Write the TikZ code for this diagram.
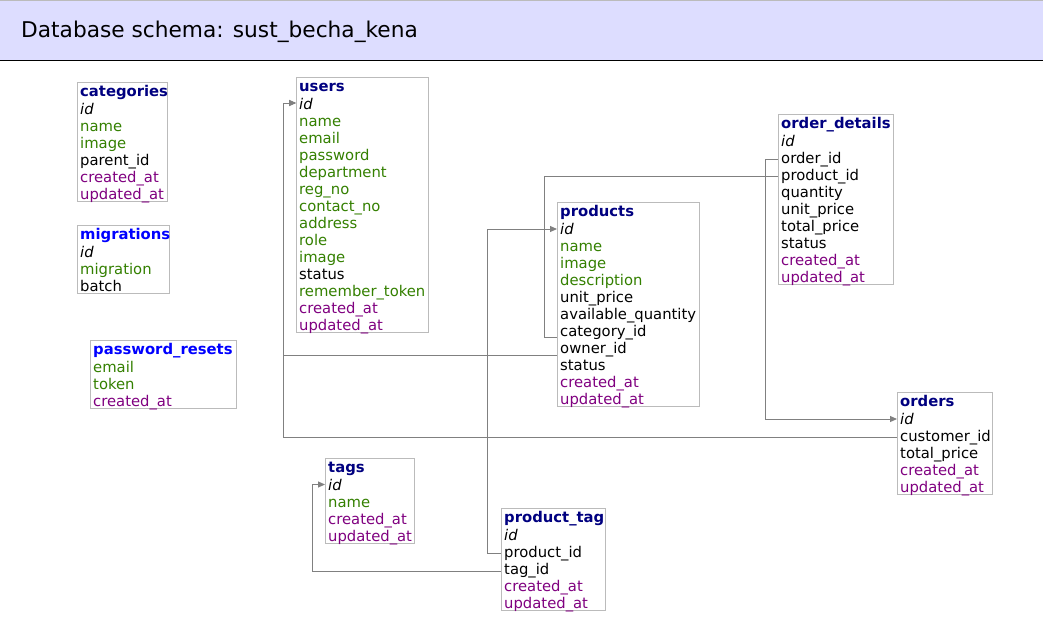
\documentclass[tikz,border=0pt]{standalone}
\usepackage{fontspec}
\setmainfont{DejaVu Sans}
\usetikzlibrary{arrows.meta}
\definecolor{hdr}{HTML}{DDDDFF}
\definecolor{tnavy}{HTML}{000080}
\definecolor{tblue}{HTML}{0000FF}
\definecolor{fgreen}{RGB}{52,128,0}
\definecolor{fpurple}{HTML}{800080}
\definecolor{boxgray}{HTML}{BBBBBB}
\definecolor{connc}{HTML}{808080}
\catcode`\_=12
\newcommand\tf{\fontsize{14.8}{17}\selectfont}
\tikzset{
  tbox/.style={draw=boxgray, line width=1pt, anchor=north west, inner sep=0pt, outer sep=0pt, fill=white},
  ttitle/.style={anchor=base west, inner sep=0pt, font=\tf\bfseries},
  tfield/.style={anchor=base west, inner sep=0pt, font=\tf},
  idf/.style={font=\tf\itshape, text=black},
  grn/.style={text=fgreen},
  blk/.style={text=black},
  tsf/.style={text=fpurple},
  conn/.style={draw=connc, line width=1pt},
  arr/.style={-{Triangle[length=7pt,width=6pt]}},
}
% #1 key, #2 title, #3 title colour, #4 x, #5 y, #6 width, #7 rows, #8 fields
\newcommand\dbtable[8]{%
  \node[tbox, minimum width=#6pt, minimum height={17pt*#7}] (#1) at (#4,#5) {};
  \node[ttitle, text=#3] (#1-title) at ({#4+3},{#5+14.5}) {#2};
  \foreach \f/\c [count=\i] in {#8} {
    \coordinate (#1-\f) at (#4,{#5+8.5+17*\i});
    \node[tfield, \c] (#1-\f-t) at ({#4+3},{#5+15+17*\i}) {\f};
  }%
}
\begin{document}
\begin{tikzpicture}[x=1pt,y=-1pt]
\useasboundingbox (0,0) rectangle (1043,621);
\fill[white] (0,0) rectangle (1043,621);
\fill[hdr] (0,0) rectangle (1043,60);
\draw[boxgray, line width=1pt] (0,0.5) -- (1043,0.5);
\draw[black, line width=1pt] (0,60) -- (1043,60);
\node[anchor=base west, inner sep=0pt, font=\fontsize{21.7}{26}\selectfont] (title) at (21,37.5) {Database schema: sust_becha_kena};

\dbtable{categories}{categories}{tnavy}{77}{82}{90}{7}{id/idf,name/grn,image/grn,parent_id/blk,created_at/tsf,updated_at/tsf}
\dbtable{migrations}{migrations}{tblue}{77}{225}{92}{4}{id/idf,migration/grn,batch/blk}
\dbtable{pwres}{password_resets}{tblue}{90}{340}{146}{4}{email/grn,token/grn,created_at/tsf}
\dbtable{users}{users}{tnavy}{296}{77}{132}{15}{id/idf,name/grn,email/grn,password/grn,department/grn,reg_no/grn,contact_no/grn,address/grn,role/grn,image/grn,status/blk,remember_token/grn,created_at/tsf,updated_at/tsf}
\dbtable{products}{products}{tnavy}{557}{202}{142}{12}{id/idf,name/grn,image/grn,description/grn,unit_price/blk,available_quantity/blk,category_id/blk,owner_id/blk,status/blk,created_at/tsf,updated_at/tsf}
\dbtable{od}{order_details}{tnavy}{778}{114}{115}{10}{id/idf,order_id/blk,product_id/blk,quantity/blk,unit_price/blk,total_price/blk,status/blk,created_at/tsf,updated_at/tsf}
\dbtable{orders}{orders}{tnavy}{897}{392}{95}{6}{id/idf,customer_id/blk,total_price/blk,created_at/tsf,updated_at/tsf}
\dbtable{tags}{tags}{tnavy}{325}{458}{89}{5}{id/idf,name/grn,created_at/tsf,updated_at/tsf}
\dbtable{pt}{product_tag}{tnavy}{501}{508}{104}{6}{id/idf,product_id/blk,tag_id/blk,created_at/tsf,updated_at/tsf}

% connectors
\draw[conn, arr] ([yshift=-2.5pt]od-order_id) -- ++(-13,0) |- ([yshift=-1.5pt]orders-id);
\draw[conn] ([yshift=-3pt]od-product_id) -- ++(-234,0) |- ([yshift=-7.5pt]products-category_id);
\draw[conn, arr] ([yshift=-8.5pt]products-owner_id) -- ++(-274,0) |- ([yshift=-0.5pt]users-id);
\draw[conn, arr] ([yshift=-3pt]orders-customer_id) -- ++(-614,0) |- ([yshift=-0.5pt]users-id);
\draw[conn, arr] ([yshift=-2.5pt]pt-product_id) -- ++(-14,0) |- ([yshift=-1.5pt]products-id);
\draw[conn, arr] ([yshift=-3.5pt]pt-tag_id) -- ++(-189,0) |- ([yshift=-1pt]tags-id);
\end{tikzpicture}
\end{document}
